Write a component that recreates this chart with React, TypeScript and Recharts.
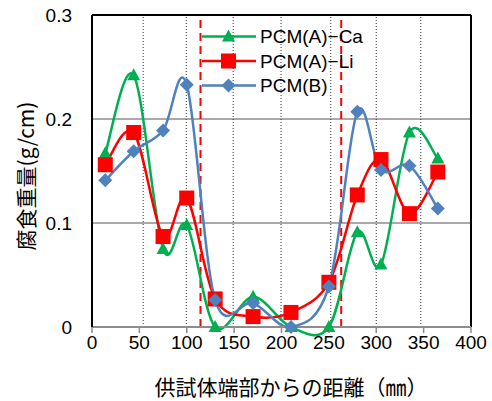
import { LineChart, Line, XAxis, YAxis, CartesianGrid, ReferenceLine, Legend } from 'recharts';

// distance from specimen end (mm)
const positions = [14, 44, 75, 100, 130, 170, 210, 250, 280, 305, 335, 365];

// corrosion weight (g/cm)
const pcmACa = [0.167, 0.242, 0.075, 0.098, 0, 0.029, 0, 0, 0.091, 0.06, 0.187, 0.162];
const pcmALi = [0.156, 0.187, 0.087, 0.124, 0.027, 0.01, 0.014, 0.043, 0.127, 0.161, 0.109, 0.149];
const pcmB = [0.141, 0.169, 0.189, 0.233, 0.026, 0.023, 0, 0.039, 0.207, 0.151, 0.155, 0.114];

const xTicks = [0, 50, 100, 150, 200, 250, 300, 350, 400];
const yTicks = [0, 0.1, 0.2, 0.3];

// section dividers (dotted) and repair boundary (red dashed)
const dividers = [54, 99.5, 149, 199.5, 252, 300, 347];
const boundaries = [114.5, 263];

type Marker = 'triangle' | 'square' | 'diamond';

const SERIES: { key: string; name: string; color: string; marker: Marker }[] = [
  { key: 'ca', name: 'PCM(A)−Ca', color: '#00B050', marker: 'triangle' },
  { key: 'li', name: 'PCM(A)−Li', color: '#FF0000', marker: 'square' },
  { key: 'b', name: 'PCM(B)', color: '#4F81BD', marker: 'diamond' },
];

const data = positions.map((x, i) => ({ x, ca: pcmACa[i], li: pcmALi[i], b: pcmB[i] }));

const FONT = '"Liberation Sans", Arial, sans-serif';
const JP_FONT = '"Noto Sans CJK JP", sans-serif';

// Catmull-Rom style bezier, close to the spreadsheet "smoothed line"
function smoothCurve(context: any) {
  let xs: number[] = [];
  let ys: number[] = [];
  return {
    areaStart() {},
    areaEnd() {},
    lineStart() {
      xs = [];
      ys = [];
    },
    point(x: number, y: number) {
      xs.push(+x);
      ys.push(+y);
    },
    lineEnd() {
      const n = xs.length;
      if (!n) return;
      context.moveTo(xs[0], ys[0]);
      for (let i = 0; i < n - 1; i++) {
        const i0 = Math.max(i - 1, 0);
        const i3 = Math.min(i + 2, n - 1);
        context.bezierCurveTo(
          xs[i] + (xs[i + 1] - xs[i0]) / 6,
          ys[i] + (ys[i + 1] - ys[i0]) / 6,
          xs[i + 1] - (xs[i3] - xs[i]) / 6,
          ys[i + 1] - (ys[i3] - ys[i]) / 6,
          xs[i + 1],
          ys[i + 1],
        );
      }
    },
  };
}

function MarkerShape({ cx, cy, marker, color }: { cx: number; cy: number; marker: Marker; color: string }) {
  if (marker === 'triangle') {
    return <polygon points={`${cx},${cy - 7} ${cx + 6.5},${cy + 5} ${cx - 6.5},${cy + 5}`} fill={color} />;
  }
  if (marker === 'square') {
    return <rect x={cx - 7.5} y={cy - 7.5} width={15} height={15} fill={color} />;
  }
  return <polygon points={`${cx},${cy - 7} ${cx + 7},${cy} ${cx},${cy + 7} ${cx - 7},${cy}`} fill={color} />;
}

function renderLegend() {
  return (
    <svg width={180} height={80}>
      {SERIES.map((s, i) => {
        const cy = 12.5 + i * 24.5;
        return (
          <g key={s.key}>
            <line x1={2} x2={56} y1={cy} y2={cy} stroke={s.color} strokeWidth={2.5} />
            <MarkerShape cx={28.5} cy={cy} marker={s.marker} color={s.color} />
            <text x={60} y={cy} dominantBaseline="central" fontSize={19} fontFamily={FONT} fill="#000">
              {s.name}
            </text>
          </g>
        );
      })}
    </svg>
  );
}

const renderYLabel = () => (
  <text
    x={25}
    y={176}
    transform="rotate(-90 25 176)"
    textAnchor="middle"
    dominantBaseline="central"
    fontSize={21}
    fontFamily={JP_FONT}
    fill="#000"
  >
    腐食重量(g/cm)
  </text>
);

const renderXLabel = () => (
  <text x={291} y={386} textAnchor="middle" dominantBaseline="central" fontSize={21} fontFamily={JP_FONT} fill="#000">
    供試体端部からの距離（㎜）
  </text>
);

export default function App() {
  return (
    <div style={{ position: 'absolute', left: 0, top: 0, width: 492, height: 401, background: '#fff' }}>
      <LineChart width={492} height={401} data={data} margin={{ top: 15, right: 21, left: 0, bottom: 0 }}>
        <CartesianGrid vertical={false} stroke="#8c8c8c" strokeWidth={1.5} />
        <XAxis
          type="number"
          dataKey="x"
          domain={[0, 400]}
          ticks={xTicks}
          height={74}
          tickSize={6}
          tickMargin={3}
          tick={{ fontSize: 19, fill: '#000', fontFamily: FONT }}
          axisLine={{ stroke: '#8c8c8c', strokeWidth: 2 }}
          tickLine={{ stroke: '#8c8c8c', strokeWidth: 1.5 }}
          label={renderXLabel}
        />
        <YAxis
          domain={[0, 0.3]}
          ticks={yTicks}
          width={92}
          tickSize={0}
          tickMargin={20}
          tickLine={false}
          tickFormatter={(v: number) => (v === 0 ? '0' : v.toFixed(1))}
          tick={{ fontSize: 19, fill: '#000', fontFamily: FONT }}
          axisLine={{ stroke: '#000', strokeWidth: 2 }}
          label={renderYLabel}
        />
        {dividers.map((x) => (
          <ReferenceLine key={`d${x}`} x={x} stroke="#333" strokeWidth={1} strokeDasharray="1 2" />
        ))}
        {boundaries.map((x) => (
          <ReferenceLine key={`b${x}`} x={x} stroke="#FF0000" strokeWidth={2} strokeDasharray="8 5" />
        ))}
        <ReferenceLine y={0.3} stroke="#000" strokeWidth={2} />
        <ReferenceLine x={400} stroke="#000" strokeWidth={2} />
        {SERIES.map((s) => (
          <Line
            key={s.key}
            dataKey={s.key}
            name={s.name}
            type={smoothCurve as any}
            stroke={s.color}
            strokeWidth={2.5}
            isAnimationActive={false}
            dot={(p: any) => <MarkerShape key={`${s.key}${p.index}`} cx={p.cx} cy={p.cy} marker={s.marker} color={s.color} />}
            activeDot={false}
          />
        ))}
        <Legend
          layout="vertical"
          align="center"
          verticalAlign="middle"
          content={renderLegend}
          wrapperStyle={{ left: 200, top: 24, width: 180 }}
        />
      </LineChart>
    </div>
  );
}
